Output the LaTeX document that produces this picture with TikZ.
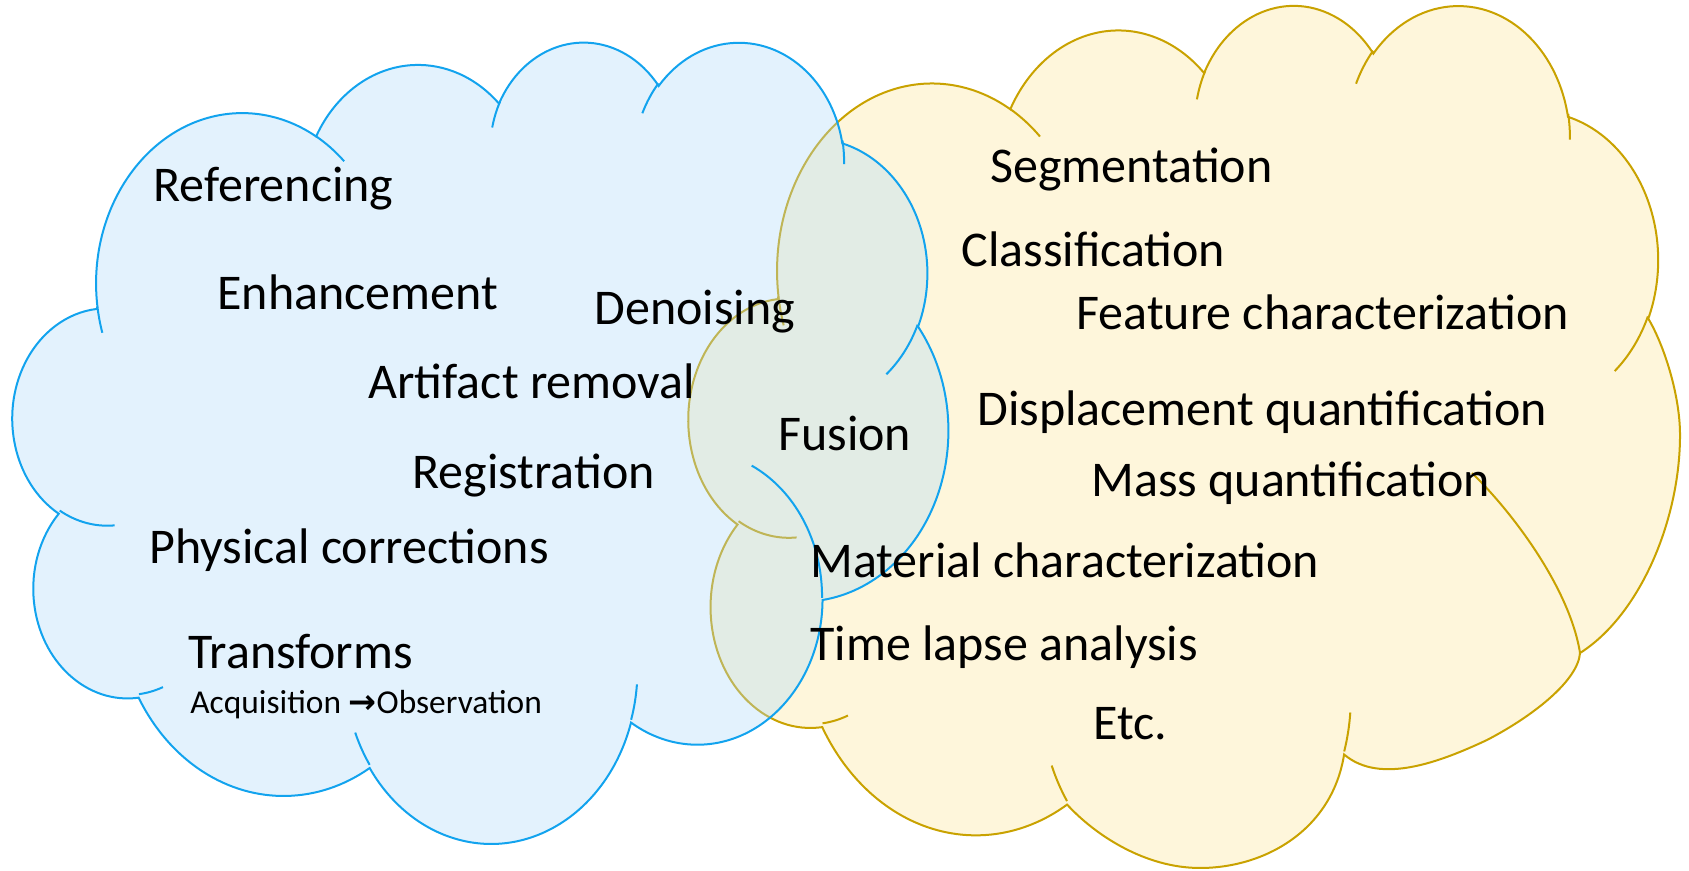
\documentclass[tikz,border=0pt]{standalone}
\usepackage{fontspec}
\setmainfont{Carlito}
\newfontfamily\symfont{DejaVu Sans}

\definecolor{bluefill}{RGB}{175,218,249}
\definecolor{blueline}{RGB}{18,163,238}
\definecolor{goldfill}{RGB}{254,246,219}
\definecolor{goldline}{RGB}{201,162,0}

% elliptical arc whose start and sweep are given as visual angles (degrees)
\newcommand\ooarc[4]{arc[start angle={pa(#3,#1,#2)}, end angle={pa(#3+#4,#1,#2)}, x radius=#1, y radius=#2]}

% cloud outline inside a 43.2 x 43.2 box, y pointing down
\newcommand\cloudtop{(3.9,14.37)
  \ooarc{6.753}{9.19}{-190.48748}{123.78053}
  \ooarc{5.333}{7.267}{-144.10238}{89.94523}
  \ooarc{4.365}{5.945}{-145.80792}{99.72302}
  \ooarc{4.857}{6.595}{-130.98607}{117.24173}
  \ooarc{5.333}{7.273}{-78.70888}{109.02692}}
\newcommand\cloudright{%
  \ooarc{6.775}{9.22}{-46.26725}{130.269}
  \ooarc{5.785}{7.867}{0.62502}{114.03333}
  \ooarc{6.752}{9.215}{22.4516}{115.17255}}
% reshaped right-hand and bottom puffs of the gold cloud
\newcommand\goldright{%
  .. controls (42.502,16.751) and (43.2,19.2) .. (43.2,21.159)
  .. controls (43.2,25.322) and (41.456,29.976) .. (38.841,31.837)
  .. controls (38.754,33.159) and (36.879,34.873) .. (34.786,36.098)
  .. controls (32.738,37.176) and (30.122,38.302) .. (28.557,36.808)
  .. controls (28.03,40.506) and (25.109,42.367) .. (22.276,42.367)
  .. controls (19.878,42.367) and (17.698,40.751) .. (16.4822,39.2614)}
\newcommand\cloudtail{%
  \ooarc{7.72}{10.543}{66.24263}{75.71102}
  \ooarc{4.36}{5.918}{-274.94208}{146.73557}
  \ooarc{4.345}{5.945}{-246.8285}{152.51885}
  -- cycle}

% the short inner arcs between the puffs
\newcommand\creasesA{%
  (4.693,26.177) \ooarc{4.345}{5.945}{86.742}{26.4295}
  (6.928,34.899) \ooarc{4.36}{5.918}{73.61047}{11.44747}
  (16.478,39.09) \ooarc{6.752}{9.215}{137.62415}{14.0811}
  (28.827,34.751) \ooarc{6.752}{9.215}{6.45327}{15.99835}}
\newcommand\creasesB{%
  (41.798,15.354) \ooarc{5.333}{7.273}{30.31803}{27.7515}
  (38.324,5.426) \ooarc{4.857}{6.595}{-13.74433}{14.8589}
  (29.078,3.952) \ooarc{4.857}{6.595}{-149.18145}{18.19537}
  (22.141,4.72) \ooarc{4.365}{5.945}{-163.49427}{17.68635}
  (14,5.192) \ooarc{6.753}{9.19}{-66.70695}{12.31935}
  (4.127,15.789) \ooarc{6.753}{9.19}{157.65435}{11.85817}}

\tikzset{
  cloudbox/.style n args={4}{xshift=#1*0.5pt, yshift=-#2*0.5pt,
    xscale={#3*0.5/(43.2*28.45274)}, yscale={-#4*0.5/(43.2*28.45274)}},
  goldcloud/.style={fill=goldfill, draw=goldline, line width=1pt},
  goldcrease/.style={draw=goldline, line width=1pt},
  bluecloud/.style={fill=bluefill, fill opacity=0.35, draw=blueline, line width=1pt},
  bluecrease/.style={draw=blueline, line width=1pt},
  cloudtext/.style={anchor=base west, inner sep=0pt, text=black,
    font=\fontsize{25}{30}\selectfont},
  cloudsub/.style={anchor=base west, inner sep=0pt, text=black,
    font=\fontsize{16.7}{20}\selectfont},
}

\begin{document}
\begin{tikzpicture}[declare function={
    pa(\ang,\rx,\ry)=\ang+(atan2(\rx*sin(\ang),\ry*cos(\ang))-\ang)
      -360*round((atan2(\rx*sin(\ang),\ry*cos(\ang))-\ang)/360);}]
  \useasboundingbox (0,0) rectangle (844.5pt,-435.5pt);

  % analysis cloud (right)
  \begin{scope}[cloudbox={689}{3}{991}{882}]
    \path[goldcloud] \cloudtop \goldright \cloudtail;
    \path[goldcrease] \creasesA \creasesB
      (34.133,23.02) .. controls (36.007,25.078) and (38.405,28.751) .. (38.841,31.837);
  \end{scope}

  % processing cloud (left), translucent over the right one
  \begin{scope}[cloudbox={13}{40}{935}{801}]
    \path[bluecloud] \cloudtop \cloudright \cloudtail;
    \path[bluecrease] \creasesA \creasesB
      (34.129,22.954) \ooarc{5.785}{7.867}{-70.29235}{70.91737};
  \end{scope}

  \begin{scope}[x=0.5pt, y=-0.5pt]
    \node[cloudtext] (ref)   at (153,202) {Referencing};
    \node[cloudtext] (enh)   at (217,309) {Enhancement};
    \node[cloudtext] (den)   at (594,324) {Denoising};
    \node[cloudtext] (art)   at (368,398) {Artifact removal};
    \node[cloudtext] (reg)   at (412,488) {Registration};
    \node[cloudtext] (phys)  at (149,563) {Physical corrections};
    \node[cloudtext] (trf)   at (188,668) {Transforms};
    \node[cloudsub]  (acq)   at (190,713) {Acquisition {\symfont\bfseries →}Observation};
    \node[cloudtext] (fus)   at (778,450) {Fusion};

    \node[cloudtext] (seg)   at (990,183) {Segmentation};
    \node[cloudtext] (cls)   at (961,267) {Classification};
    \node[cloudtext] (feat)  at (1076,329) {Feature characterization};
    \node[cloudtext] (disp)  at (977,425) {Displacement quantification};
    \node[cloudtext] (mass)  at (1091,496) {Mass quantification};
    \node[cloudtext] (mat)   at (810,577) {Material characterization};
    \node[cloudtext] (time)  at (810,660) {Time lapse analysis};
    \node[cloudtext] (etc)   at (1093,739) {Etc.};
  \end{scope}
\end{tikzpicture}
\end{document}
